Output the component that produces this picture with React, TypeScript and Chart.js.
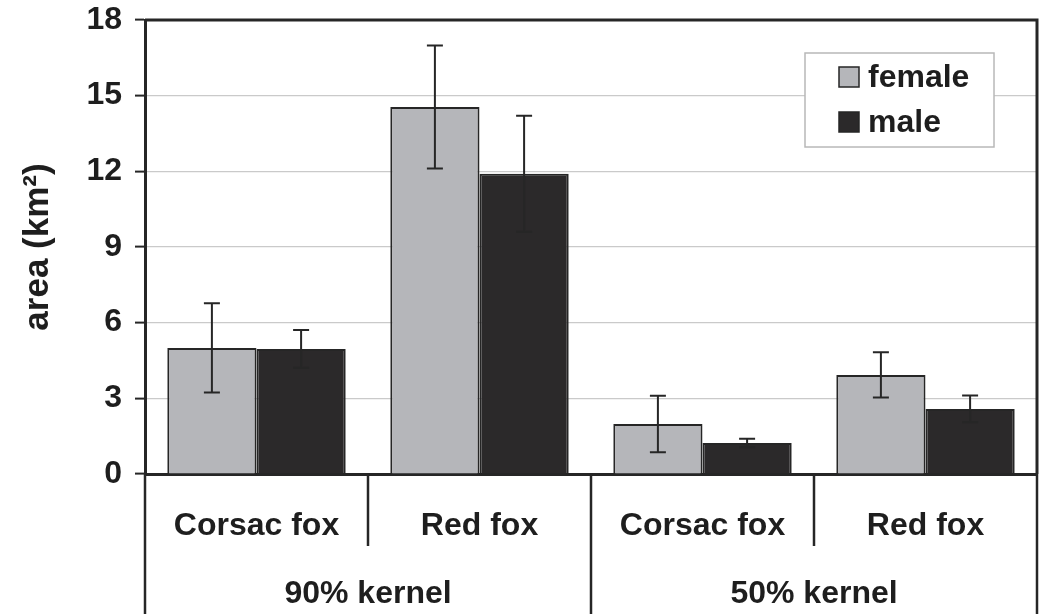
import React, { useEffect, useRef } from 'react';
import { Chart, registerables } from 'chart.js';

Chart.register(...registerables);

const categories = ['Corsac fox', 'Red fox', 'Corsac fox', 'Red fox'];
const groups = ['90% kernel', '50% kernel'];
const femaleValues = [5.0, 14.55, 1.98, 3.93];
const femaleErrors = [1.77, 2.44, 1.12, 0.9];
const maleValues = [4.96, 11.9, 1.23, 2.58];
const maleErrors = [0.75, 2.3, 0.17, 0.53];
const yMin = 0;
const yMax = 18;
const yStep = 3;

const FONT = '"Liberation Sans", Arial, Helvetica, sans-serif';
const DARK = '#262626';
const FEMALE = '#b5b6ba';
const MALE = '#2b292a';

const errorBarPlugin = {
  id: 'errorBars',
  afterDatasetsDraw(chart: any) {
    const ctx = chart.ctx;
    const y = chart.scales.y;
    chart.data.datasets.forEach((ds: any, i: number) => {
      const meta = chart.getDatasetMeta(i);
      meta.data.forEach((bar: any, j: number) => {
        const v = ds.data[j];
        const e = ds.errors[j];
        const top = y.getPixelForValue(v + e);
        const bot = y.getPixelForValue(v - e);
        ctx.save();
        ctx.strokeStyle = DARK;
        ctx.lineWidth = 2;
        ctx.beginPath();
        ctx.moveTo(bar.x, top);
        ctx.lineTo(bar.x, bot);
        ctx.moveTo(bar.x - 8, top);
        ctx.lineTo(bar.x + 8, top);
        ctx.moveTo(bar.x - 8, bot);
        ctx.lineTo(bar.x + 8, bot);
        ctx.stroke();
        ctx.restore();
      });
    });
  },
};

const framePlugin = {
  id: 'frame',
  afterDraw(chart: any) {
    const ctx = chart.ctx;
    const ca = chart.chartArea;
    const x = chart.scales.x;
    ctx.save();
    ctx.strokeStyle = DARK;
    ctx.lineWidth = 3;
    ctx.beginPath();
    ctx.moveTo(ca.left, ca.top);
    ctx.lineTo(ca.right, ca.top);
    ctx.lineTo(ca.right, ca.bottom);
    ctx.stroke();
    // category separators
    ctx.lineWidth = 2.5;
    for (let i = 0; i <= categories.length; i++) {
      const px = x.getPixelForValue(i - 0.5);
      const end = i % 2 === 0 ? chart.height : x.bottom;
      ctx.beginPath();
      ctx.moveTo(px, ca.bottom);
      ctx.lineTo(px, end);
      ctx.stroke();
    }
    // legend
    const bx = ca.right - 232;
    const by = ca.top + 33;
    ctx.fillStyle = '#ffffff';
    ctx.fillRect(bx, by, 189, 94);
    ctx.strokeStyle = '#b8b8b8';
    ctx.lineWidth = 1.5;
    ctx.strokeRect(bx, by, 189, 94);
    const items = chart.data.datasets.map((d: any) => ({ label: d.label, color: d.backgroundColor }));
    items.forEach((it: any, k: number) => {
      const cy = by + 24 + k * 45;
      ctx.fillStyle = it.color;
      ctx.fillRect(bx + 34, cy - 10, 20, 20);
      ctx.strokeStyle = DARK;
      ctx.lineWidth = 1.5;
      ctx.strokeRect(bx + 34, cy - 10, 20, 20);
      ctx.fillStyle = '#1e1e1e';
      ctx.font = 'bold 32px ' + FONT;
      ctx.textBaseline = 'middle';
      ctx.textAlign = 'left';
      ctx.fillText(it.label, bx + 63, cy + 1);
    });
    ctx.restore();
  },
};

export default function App() {
  const ref = useRef<HTMLCanvasElement | null>(null);
  useEffect(() => {
    if (!ref.current) return;
    Chart.defaults.font.family = FONT;
    const chart = new Chart(ref.current, {
      type: 'bar',
      data: {
        labels: categories,
        datasets: [
          {
            label: 'female',
            data: femaleValues,
            errors: femaleErrors,
            backgroundColor: FEMALE,
            borderColor: DARK,
            borderWidth: 2,
            barPercentage: 1,
            categoryPercentage: 0.8,
          } as any,
          {
            label: 'male',
            data: maleValues,
            errors: maleErrors,
            backgroundColor: MALE,
            borderColor: DARK,
            borderWidth: 2,
            barPercentage: 1,
            categoryPercentage: 0.8,
          } as any,
        ],
      },
      options: {
        responsive: false,
        animation: false,
        devicePixelRatio: 1,
        layout: { padding: { top: 20, right: 4, left: 0, bottom: 0 } },
        plugins: { legend: { display: false }, tooltip: { enabled: false } },
        scales: {
          x: {
            type: 'category',
            position: 'bottom',
            weight: 0,
            grid: { display: false },
            border: { display: true, color: DARK, width: 3 },
            ticks: { color: '#1e1e1e', font: { size: 32, weight: 'bold' }, padding: 25, maxRotation: 0, autoSkip: false },
            afterFit: (s: any) => { s.height = 72; s.paddingLeft = 0; s.paddingRight = 0; },
          },
          x2: {
            type: 'category',
            position: 'bottom',
            weight: 1,
            labels: groups,
            offset: true,
            grid: { display: false },
            border: { display: false },
            ticks: { color: '#1e1e1e', font: { size: 32, weight: 'bold' }, padding: 21, maxRotation: 0, autoSkip: false },
            afterFit: (s: any) => { s.height = 68; s.paddingLeft = 0; s.paddingRight = 0; },
          },
          y: {
            min: yMin,
            max: yMax,
            ticks: { stepSize: yStep, color: '#1e1e1e', font: { size: 32, weight: 'bold' }, padding: 13 },
            grid: {
              color: (c: any) => (c.tick && (c.tick.value === yMin || c.tick.value === yMax) ? 'rgba(0,0,0,0)' : '#cacaca'),
              lineWidth: 1.2,
              tickColor: DARK,
              tickLength: 10,
              tickWidth: 2,
            },
            border: { display: true, color: DARK, width: 3 },
            title: { display: true, text: 'area (km²)', color: '#1e1e1e', font: { size: 35, weight: 'bold' }, padding: { top: 17, bottom: 0 } },
            afterFit: (s: any) => { s.width = 145; s.paddingTop = 0; s.paddingBottom = 0; },
          },
        },
      } as any,
      plugins: [errorBarPlugin, framePlugin],
    });
    return () => chart.destroy();
  }, []);
  return (
    <div style={{ position: 'absolute', left: 0, top: 0, width: 1041, height: 614, background: '#fff' }}>
      <canvas ref={ref} width={1041} height={614} />
    </div>
  );
}
